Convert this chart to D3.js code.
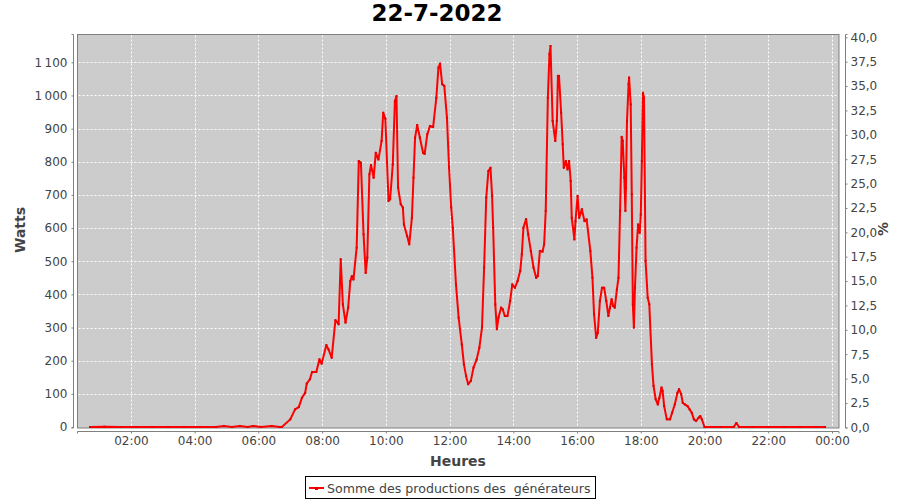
<!DOCTYPE html>
<html><head><meta charset="utf-8">
<script src="https://cdn.jsdelivr.net/npm/d3@7"></script>
<style>body{margin:0;background:#fff;} svg{display:block;font-family:"DejaVu Sans",sans-serif;}</style>
</head><body><svg id="c" width="900" height="500"></svg>
<script>
const title = "22-7-2022";
const seriesName = "Somme des productions des  générateurs";
const times = ["00:43","01:10","01:40","02:10","02:40","03:10","03:40","04:10","04:40","04:55","05:10","05:25","05:40","05:50","06:05","06:25","06:40","06:44",
"07:00","07:09","07:16","07:22","07:28","07:31","07:37","07:41","07:49","07:55","07:59","08:08","08:12","08:18","08:25","08:31","08:35","08:39","08:44","08:49","08:53","08:56","08:59",
"09:05","09:09","09:13","09:18","09:22","09:25","09:29","09:32","09:37","09:41","09:46","09:52","09:55","09:59",
"10:05","10:08","10:13","10:17","10:20","10:23","10:28","10:32","10:34","10:40","10:44","10:49","10:52","10:55","10:59",
"11:04","11:10","11:13","11:18","11:23","11:29","11:35","11:39","11:42","11:46","11:50","11:55","11:59",
"12:03","12:06","12:12","12:17","12:23","12:27","12:31","12:35","12:40","12:45","12:51","12:56",
"13:01","13:05","13:09","13:13","13:17","13:20","13:22","13:26","13:29","13:32","13:37","13:40","13:44","13:49","13:54","13:58",
"14:03","14:08","14:13","14:16","14:19","14:24","14:28","14:33","14:38","14:43","14:46","14:50","14:55","14:58",
"15:01","15:05","15:08","15:10","15:14","15:19","15:22","15:24","15:26","15:30","15:33","15:35","15:39","15:42","15:45","15:48","15:50","15:55","15:57",
"16:01","16:04","16:09","16:14","16:18","16:25","16:29","16:32","16:36","16:39","16:43","16:47","16:51","16:55","16:59",
"17:02","17:05","17:08","17:11","17:15","17:18","17:21","17:24","17:26","17:29","17:31","17:32","17:34","17:37","17:38","17:41","17:43","17:45","17:47","17:49","17:52","17:55","17:58",
"18:00","18:02","18:04","18:06","18:09","18:13","18:16","18:21","18:24","18:28","18:32","18:35","18:39","18:41","18:44","18:49","18:55","18:59",
"19:04","19:09","19:12","19:16","19:19","19:23","19:28","19:32","19:36","19:40","19:44","19:49","19:52","19:55",
"20:00","20:30","20:55","21:00","21:05","21:30","22:00","22:30","23:00","23:30","23:47"];
const watts = [0,1,0,0,0,0,0,0,0,3,0,3,0,3,0,3,0,0,
23,53,60,88,103,131,144,166,166,204,191,247,234,209,322,310,506,370,315,360,440,455,445,
541,802,797,581,465,511,762,790,752,827,807,863,948,930,
682,687,792,983,998,722,672,662,611,576,551,631,752,873,911,
873,827,824,883,908,905,993,1084,1096,1034,1029,933,782,
662,601,430,330,249,189,154,129,139,179,204,239,
300,481,692,772,782,697,601,370,295,330,360,355,335,335,380,430,
420,440,471,521,601,627,581,531,481,450,455,531,529,551,
652,993,1124,1149,923,863,923,1059,1059,948,853,782,802,777,802,742,631,566,621,
697,631,657,621,626,531,450,340,269,284,380,420,420,380,335,
360,385,365,360,415,450,652,875,863,752,652,722,923,1034,1054,973,702,370,300,420,541,611,586,
641,802,1008,993,501,390,370,189,124,84,68,88,119,109,63,23,23,43,
68,103,114,99,73,68,63,53,43,23,18,28,33,23,
0,0,0,12,0,0,0,0,0,0,0];
const leftTicks = [0,100,200,300,400,500,600,700,800,900,1000,1100];
const rightTicks = [0,2.5,5,7.5,10,12.5,15,17.5,20,22.5,25,27.5,30,32.5,35,37.5,40];
const xTickHours = [2,4,6,8,10,12,14,16,18,20,22,24];

const svg = d3.select("#c");
const P = {l:77.5, r:839, t:34.5, b:428};
const day = new Date(2022,6,22);
const tAt = h => new Date(day.getTime() + h*3600000);
const parse = s => { const [H,M] = s.split(":").map(Number); return tAt(H + M/60); };
const data = times.map((t,i)=>({t:parse(t), v:watts[i]}));

const x = d3.scaleTime().domain([tAt(0.323), tAt(24.22)]).range([P.l, P.r]);
const y = d3.scaleLinear().domain([0, 1100]).range([427, 62.3]);
const y2 = d3.scaleLinear().domain([0, 40]).range([427.3, 37.3]);

// plot background
svg.append("rect").attr("x",P.l).attr("y",P.t).attr("width",P.r-P.l).attr("height",P.b-P.t)
  .attr("fill","#cccccc").attr("stroke","#808080").attr("stroke-width",1);

// grid
const g = svg.append("g");
g.selectAll(".gy").data(leftTicks.slice(1)).join("line")
  .attr("x1",P.l+1).attr("x2",P.r-1).attr("y1",d=>Math.round(y(d))+0.5).attr("y2",d=>Math.round(y(d))+0.5)
  .attr("stroke","#fff").attr("stroke-dasharray","2,2").attr("stroke-width",1);
g.selectAll(".gx").data(xTickHours).join("line")
  .attr("y1",P.t+1).attr("y2",P.b-1).attr("x1",d=>Math.round(x(tAt(d)))+0.5).attr("x2",d=>Math.round(x(tAt(d)))+0.5)
  .attr("stroke","#fff").attr("stroke-dasharray","2,2").attr("stroke-width",1);

// line
svg.append("path").datum(data)
  .attr("d", d3.line().x(d=>x(d.t)).y(d=>y(d.v)))
  .attr("fill","none").attr("stroke","#ff0000").attr("stroke-width",2).attr("stroke-linejoin","round");
svg.append("g").selectAll("rect").data(data).join("rect")
  .attr("x",d=>x(d.t)-1).attr("y",d=>y(d.v)-1).attr("width",2).attr("height",2).attr("fill","#e00000");

const fr = d3.formatLocale({decimal:",", thousands:"\u202f", grouping:[3], currency:["","€"]});
const fL = fr.format(",d"), fR = fr.format(".1f");

// left axis
const la = svg.append("g").attr("transform","translate(73.5,0)")
  .call(d3.axisLeft(y).tickValues(leftTicks).tickFormat(fL).tickSize(2).tickPadding(4));
// right axis
const ra = svg.append("g").attr("transform","translate(845.5,0)")
  .call(d3.axisRight(y2).tickValues(rightTicks).tickFormat(fR).tickSize(2).tickPadding(3));
// bottom axis
const ba = svg.append("g").attr("transform","translate(0,431.5)")
  .call(d3.axisBottom(x).tickValues(xTickHours.map(tAt)).tickFormat(d3.timeFormat("%H:%M")).tickSize(2).tickPadding(3));
la.select(".domain").attr("d", `M-2,${P.t}H0V${P.b}H-2`);
ra.select(".domain").attr("d", `M2,${P.t}H0V${P.b}H2`);
ba.select(".domain").attr("d", `M${P.l},2V0H${P.r}V2`);
[la,ra,ba].forEach(a=>{
  a.select(".domain").attr("stroke","#808080");
  a.selectAll(".tick line").attr("stroke","#808080");
  a.selectAll(".tick text").attr("fill","#444").style("font-size","12px").style("font-family","DejaVu Sans");
});

// title & labels
svg.append("text").attr("x",437).attr("y",21).attr("text-anchor","middle")
  .style("font-size","23px").style("font-weight","bold").attr("fill","#000").text(title);
svg.append("text").attr("transform","translate(25,230) rotate(-90)").attr("text-anchor","middle")
  .style("font-size","14px").style("font-weight","bold").attr("fill","#444").text("Watts");
svg.append("text").attr("transform","translate(888,229) rotate(-90)").attr("text-anchor","middle")
  .style("font-size","14px").style("font-weight","bold").attr("fill","#444").text("%");
svg.append("text").attr("x",458).attr("y",466).attr("text-anchor","middle")
  .style("font-size","14px").style("font-weight","bold").attr("fill","#444").text("Heures");

// legend
const lg = svg.append("g");
lg.append("rect").attr("x",305.5).attr("y",476.5).attr("width",290).attr("height",22)
  .attr("fill","#fff").attr("stroke","#000");
lg.append("line").attr("x1",309).attr("x2",324).attr("y1",488).attr("y2",488).attr("stroke","#ff0000").attr("stroke-width",2);
lg.append("rect").attr("x",315).attr("y",487).attr("width",3).attr("height",3).attr("fill","#e00000");
lg.append("text").attr("x",327).attr("y",492.5).style("font-size","12.6px").attr("fill","#444")
  .style("white-space","pre").attr("xml:space","preserve").text(seriesName);
</script></body></html>
